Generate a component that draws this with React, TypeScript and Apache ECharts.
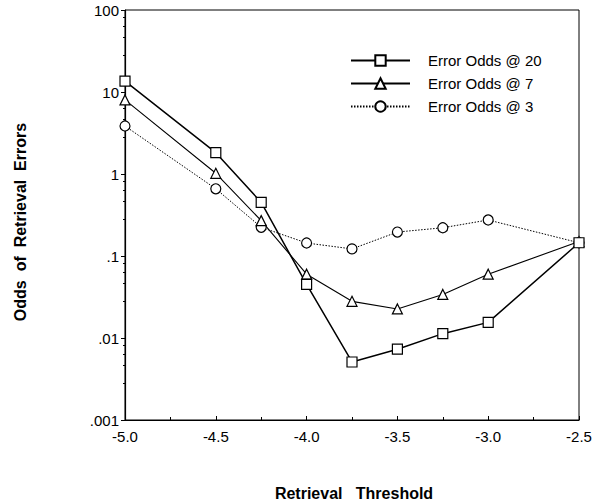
import React, { useEffect, useRef } from "react";
import * as echarts from "echarts";

const thresholds = [-5.0, -4.5, -4.25, -4.0, -3.75, -3.5, -3.25, -3.0, -2.5];
const odds20 = [13.6, 1.82, 0.45, 0.045, 0.0051, 0.0073, 0.0113, 0.0155, 0.145];
const odds7 = [8.0, 1.02, 0.27, 0.06, 0.028, 0.0226, 0.034, 0.06, 0.15];
const odds3 = [3.85, 0.66, 0.224, 0.144, 0.122, 0.196, 0.221, 0.275, 0.145];
const seriesNames = ["Error Odds @ 20", "Error Odds @ 7", "Error Odds @ 3"];
const yTickValues = [0.001, 0.01, 0.1, 1, 10, 100];
const yTickLabels = [".001", ".01", ".1", "1", "10", "100"];
const xAxisTitle = "Retrieval   Threshold";
const yAxisTitle = "Odds  of  Retrieval  Errors";

const FONT = "Arial, 'Liberation Sans', Helvetica, sans-serif";

function pairs(ys: number[]) {
  return thresholds.map((x, i) => [x, ys[i]]);
}

export default function App() {
  const ref = useRef<HTMLDivElement>(null);
  useEffect(() => {
    if (!ref.current) return;
    const chart = echarts.init(ref.current, null, { renderer: "svg" });
    const mk = (name: string, data: number[], symbol: string, lw: number, ltype: any, size: number) => ({
      name,
      type: "line",
      data: pairs(data),
      symbol,
      symbolSize: size,
      showAllSymbol: true,
      lineStyle: { color: "#000", width: lw, type: ltype },
      itemStyle: { color: "#fff", borderColor: "#000", borderWidth: 1.2 },
      emphasis: { disabled: true },
    });
    chart.setOption({
      animation: false,
      backgroundColor: "#fff",
      textStyle: { fontFamily: FONT },
      grid: {
        left: 125,
        right: 24,
        top: 10,
        bottom: 83,
        containLabel: false,
        show: true,
        borderColor: "#000",
        borderWidth: 1,
        backgroundColor: "transparent",
      },
      legend: {
        orient: "vertical",
        left: 350,
        top: 53,
        padding: 0,
        itemWidth: 59,
        itemHeight: 13,
        itemGap: 8,
        data: seriesNames,
        textStyle: { fontFamily: FONT, fontSize: 15, color: "#000", padding: [0, 0, 0, 13] },
        selectedMode: false,
      },
      xAxis: {
        type: "value",
        min: -5,
        max: -2.5,
        interval: 0.5,
        axisLine: { lineStyle: { color: "#000", width: 1.2 } },
        axisTick: { inside: true, length: 4, lineStyle: { color: "#000" } },
        minorTick: { show: true, splitNumber: 2, length: 3, lineStyle: { color: "#000" } },
        splitLine: { show: false },
        axisLabel: {
          color: "#000",
          fontSize: 15,
          fontFamily: FONT,
          margin: 9,
          formatter: (v: number) => v.toFixed(1),
        },
      },
      yAxis: {
        type: "log",
        logBase: 10,
        min: 0.001,
        max: 100,
        splitNumber: 5,
        axisLine: { lineStyle: { color: "#000", width: 1.2 } },
        axisTick: { length: 4, lineStyle: { color: "#000" } },
        minorTick: { show: true, splitNumber: 5, length: 2, lineStyle: { color: "#000" } },
        splitLine: { show: false },
        axisLabel: {
          color: "#000",
          fontSize: 15,
          fontFamily: FONT,
          margin: 6,
          formatter: (v: number) => {
            for (let i = 0; i < yTickValues.length; i++) {
              if (Math.abs(Math.log10(v) - Math.log10(yTickValues[i])) < 1e-6) return yTickLabels[i];
            }
            return "";
          },
        },
      },
      series: [
        mk(seriesNames[2], odds3, "circle", 1, [1.5, 1.5], 10),
        mk(seriesNames[1], odds7, "triangle", 1.1, "solid", 10),
        mk(seriesNames[0], odds20, "rect", 1.5, "solid", 10),
      ],
      graphic: [
        {
          type: "text",
          x: 20,
          y: 222,
          rotation: Math.PI / 2,
          style: {
            text: yAxisTitle,
            font: `bold 16px ${FONT}`,
            fill: "#000",
            align: "center",
            verticalAlign: "middle",
          },
        },
        {
          type: "text",
          x: 354,
          y: 493,
          style: {
            text: xAxisTitle,
            font: `bold 16px ${FONT}`,
            fill: "#000",
            align: "center",
            verticalAlign: "middle",
          },
        },
      ],
    });
    return () => chart.dispose();
  }, []);
  return (
    <div
      ref={ref}
      style={{ position: "fixed", left: 0, top: 0, width: 603, height: 503 }}
    />
  );
}
